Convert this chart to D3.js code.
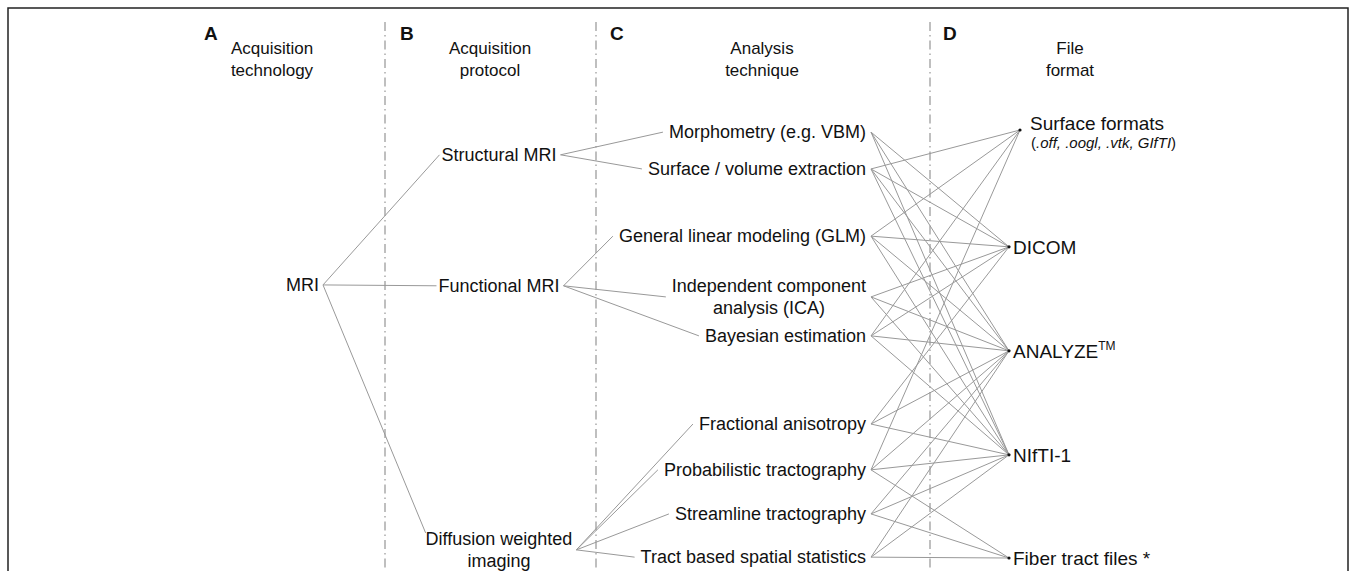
<!DOCTYPE html>
<html>
<head>
<meta charset="utf-8">
<script src="https://cdn.jsdelivr.net/npm/d3@7/dist/d3.min.js"></script>
<style>
  body { margin: 0; background: #fff; }
  text { font-family: "Liberation Sans", Arial, sans-serif; fill: #111; }
</style>
</head>
<body>
<script>
// ---- data ----
var panelLetters = ["A", "B", "C", "D"];
var panelTitles = [["Acquisition", "technology"], ["Acquisition", "protocol"],
                   ["Analysis", "technique"], ["File", "format"]];

// row = vertical slot (0 = top node, 100 = bottom node)
var technologies = [
  {id: "mri", label: ["MRI"], row: 36.2}
];
var protocols = [
  {id: "smri", label: ["Structural MRI"], row: 5.8, parent: "mri"},
  {id: "fmri", label: ["Functional MRI"], row: 36.4, parent: "mri"},
  {id: "dwi", label: ["Diffusion weighted", "imaging"], row: 98.1, parent: "mri"}
];
var techniques = [
  {id: "vbm", label: ["Morphometry (e.g. VBM)"], row: 0.5, parent: "smri"},
  {id: "surf", label: ["Surface / volume extraction"], row: 9.1, parent: "smri"},
  {id: "glm", label: ["General linear modeling (GLM)"], row: 24.8, parent: "fmri"},
  {id: "ica", label: ["Independent component", "analysis (ICA)"], row: 39, parent: "fmri"},
  {id: "bayes", label: ["Bayesian estimation"], row: 48.1, parent: "fmri"},
  {id: "fa", label: ["Fractional anisotropy"], row: 68.7, parent: "dwi"},
  {id: "prob", label: ["Probabilistic tractography"], row: 79.4, parent: "dwi"},
  {id: "stream", label: ["Streamline tractography"], row: 89.7, parent: "dwi"},
  {id: "tbss", label: ["Tract based spatial statistics"], row: 99.8, parent: "dwi"}
];
var formats = [
  {id: "surfaces", label: ["Surface formats", "(.off, .oogl, .vtk, GIfTI)"], row: 0},
  {id: "dicom", label: ["DICOM"], row: 27.3},
  {id: "analyze", label: ["ANALYZE"], sup: "TM", row: 51.6},
  {id: "nifti", label: ["NIfTI-1"], row: 75.9},
  {id: "fiber", label: ["Fiber tract files *"], row: 100}
];
var formatLinks = [
  ["vbm", "dicom"], ["vbm", "analyze"], ["vbm", "nifti"],
  ["surf", "surfaces"], ["surf", "dicom"], ["surf", "analyze"], ["surf", "nifti"],
  ["glm", "surfaces"], ["glm", "dicom"], ["glm", "analyze"], ["glm", "nifti"],
  ["ica", "dicom"], ["ica", "analyze"], ["ica", "nifti"],
  ["bayes", "surfaces"], ["bayes", "dicom"], ["bayes", "analyze"], ["bayes", "nifti"],
  ["fa", "dicom"], ["fa", "analyze"], ["fa", "nifti"],
  ["prob", "surfaces"], ["prob", "analyze"], ["prob", "nifti"], ["prob", "fiber"],
  ["stream", "analyze"], ["stream", "nifti"], ["stream", "fiber"],
  ["tbss", "analyze"], ["tbss", "nifti"], ["tbss", "fiber"]
];

// ---- layout ----
var W = 1356, H = 571;
var dividers = [385, 596, 930];
var letterX = [204, 400, 610, 943];
var titleX = [272, 490, 762, 1070];
var fontSize = 18, lineGap = 22;

var svg = d3.select("body").append("svg")
    .attr("width", W)
    .attr("height", H);

var y = d3.scaleLinear().domain([0, 100]).range([130, 558]);

// frame
svg.append("path")
    .attr("d", "M8," + H + "V8H1348V" + H)
    .attr("fill", "none")
    .attr("stroke", "#222")
    .attr("stroke-width", 1.5);

// dash-dot dividers
svg.selectAll(".divider").data(dividers).enter().append("line")
    .attr("class", "divider")
    .attr("x1", function(d) { return d; })
    .attr("x2", function(d) { return d; })
    .attr("y1", 22).attr("y2", H)
    .attr("stroke", "#aaa")
    .attr("stroke-width", 1.5)
    .attr("stroke-dasharray", "9,4,1.5,4");

// headers
svg.selectAll(".letter").data(panelLetters).enter().append("text")
    .attr("class", "letter")
    .attr("x", function(d, i) { return letterX[i]; })
    .attr("y", 40)
    .style("font-size", "19px")
    .style("font-weight", "bold")
    .text(function(d) { return d; });

panelTitles.forEach(function(t, i) {
  svg.append("text")
      .attr("text-anchor", "middle")
      .style("font-size", "17px")
      .selectAll("tspan").data(t).enter().append("tspan")
      .attr("x", titleX[i])
      .attr("y", function(d, j) { return 54 + j * 22; })
      .text(function(d) { return d; });
});

var linkG = svg.append("g").attr("stroke", "#999").attr("stroke-width", 1).attr("fill", "none");
var nodeG = svg.append("g");
var pos = {};

// draw a multi-line label
function drawLabel(node, anchor, x, size) {
  var cy = y(node.row);
  var n = node.label.length;
  var t = nodeG.append("text").style("font-size", (size || fontSize) + "px")
      .attr("dominant-baseline", "central");
  node.label.forEach(function(s, j) {
    t.append("tspan")
        .attr("y", cy + (j - (n - 1) / 2) * lineGap)
        .attr("x", x).attr("text-anchor", anchor)
        .text(s);
  });
  return t;
}

// column A
technologies.forEach(function(d) {
  var t = drawLabel(d, "end", 319);
  var b = t.node().getBBox();
  pos[d.id] = {right: [b.x + b.width + 4, y(d.row)]};
});

// column B
protocols.forEach(function(d) {
  var t = drawLabel(d, "middle", 499);
  var b = t.node().getBBox();
  var left = d.label.length > 1 ? [b.x, b.y + 4] : [b.x - 2, y(d.row)];
  pos[d.id] = {left: left, right: [b.x + b.width + 4, y(d.row)]};
});

// column C: right aligned, second lines centred under first
techniques.forEach(function(d) {
  var t = drawLabel(d, "end", 866);
  if (d.label.length > 1) {
    var first = t.select("tspan").node().getComputedTextLength();
    t.selectAll("tspan").filter(function(s, j) { return j > 0; })
        .attr("x", 866 - first / 2).attr("text-anchor", "middle");
  }
  var b = t.node().getBBox();
  pos[d.id] = {left: [b.x - 6, y(d.row)], right: [871, y(d.row)]};
});

// column D
formats.forEach(function(d) {
  var multi = d.label.length > 1;
  var t = drawLabel(d, "start", multi ? 1030 : 1013, 19);
  if (multi) {
    var ts = t.selectAll("tspan");
    ts.filter(function(s, j) { return j === 0; }).attr("y", y(d.row) - 7);
    var sub = ts.filter(function(s, j) { return j === 1; })
        .attr("y", y(d.row) + 12).attr("x", 1031)
        .style("font-size", "15px").text(null);
    sub.append("tspan").text("(");
    sub.append("tspan").style("font-style", "italic").text(".off, .oogl, .vtk, GIfTI");
    sub.append("tspan").text(")");
  }
  if (d.sup) {
    t.append("tspan").attr("dy", -5).style("font-size", "12px").text(d.sup);
  }
  var x0 = multi ? 1020 : 1009;
  pos[d.id] = {left: [x0, y(d.row)]};
  nodeG.append("circle").attr("cx", x0).attr("cy", y(d.row)).attr("r", 1.6).attr("fill", "#111");
});

// links
function addLink(a, b) {
  linkG.append("line")
      .attr("x1", a[0]).attr("y1", a[1])
      .attr("x2", b[0]).attr("y2", b[1]);
}
protocols.concat(techniques).forEach(function(d) {
  addLink(pos[d.parent].right, pos[d.id].left);
});
formatLinks.forEach(function(l) {
  addLink(pos[l[0]].right, pos[l[1]].left);
});
</script>
</body>
</html>
